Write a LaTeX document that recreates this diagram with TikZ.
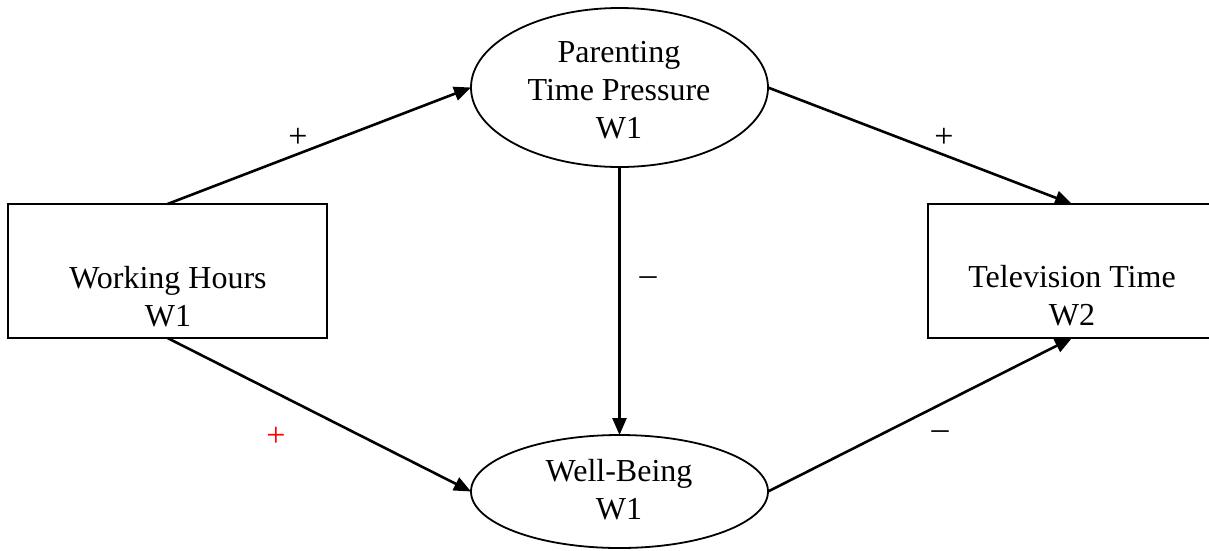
\documentclass[tikz,border=0pt]{standalone}
\usepackage{fontspec}
\setmainfont{Liberation Serif}
\usetikzlibrary{arrows.meta,shapes.geometric}
\begin{document}
\begin{tikzpicture}[x=1pt,y=-1pt,
  box/.style={draw,line width=1.8pt,rectangle,minimum width=319pt,minimum height=134pt,inner sep=0pt,outer sep=0pt},
  oval/.style={draw,line width=1.8pt,ellipse,minimum width=297pt,inner sep=0pt,outer sep=0pt},
  txt/.style={align=center,font=\fontsize{32}{38}\selectfont,inner sep=0pt},
  lbl/.style={font=\fontsize{34}{38}\selectfont,inner sep=0pt},
  conn/.style={line width=2.6pt,-{Triangle[length=17pt,width=14pt]}}]
\useasboundingbox (0,0) rectangle (1209,550);
\node[box] (wh) at (167.5,271) {};
\node[txt] (whtext) at (168,297) {Working Hours\\W1};
\node[box,minimum width=288pt] (tv) at (1072,271) {};
\node[txt] (tvtext) at (1072,296) {Television Time\\W2};
\node[oval,minimum height=159pt] (ptp) at (619.5,87.5) {};
\node[txt] (ptptext) at (619,90) {Parenting\\Time Pressure\\W1};
\node[oval,minimum height=113pt] (wb) at (619.5,491.5) {};
\node[txt] (wbtext) at (619,490) {Well-Being\\W1};
\draw[conn] (wh.north) -- (ptp.west);
\draw[conn] (ptp.east) -- (tv.north);
\draw[conn] (ptp.south) -- (wb.north);
\draw[conn] (wh.south) -- (wb.west);
\draw[conn] (wb.east) -- (tv.south);
\node[lbl] (l1) at (298,138) {+};
\node[lbl] (l2) at (944,138) {+};
\node[lbl] (l3) at (648,281) {–};
\node[lbl,text=red] (l4) at (276,437) {+};
\node[lbl] (l5) at (940,435) {–};
\end{tikzpicture}
\end{document}
